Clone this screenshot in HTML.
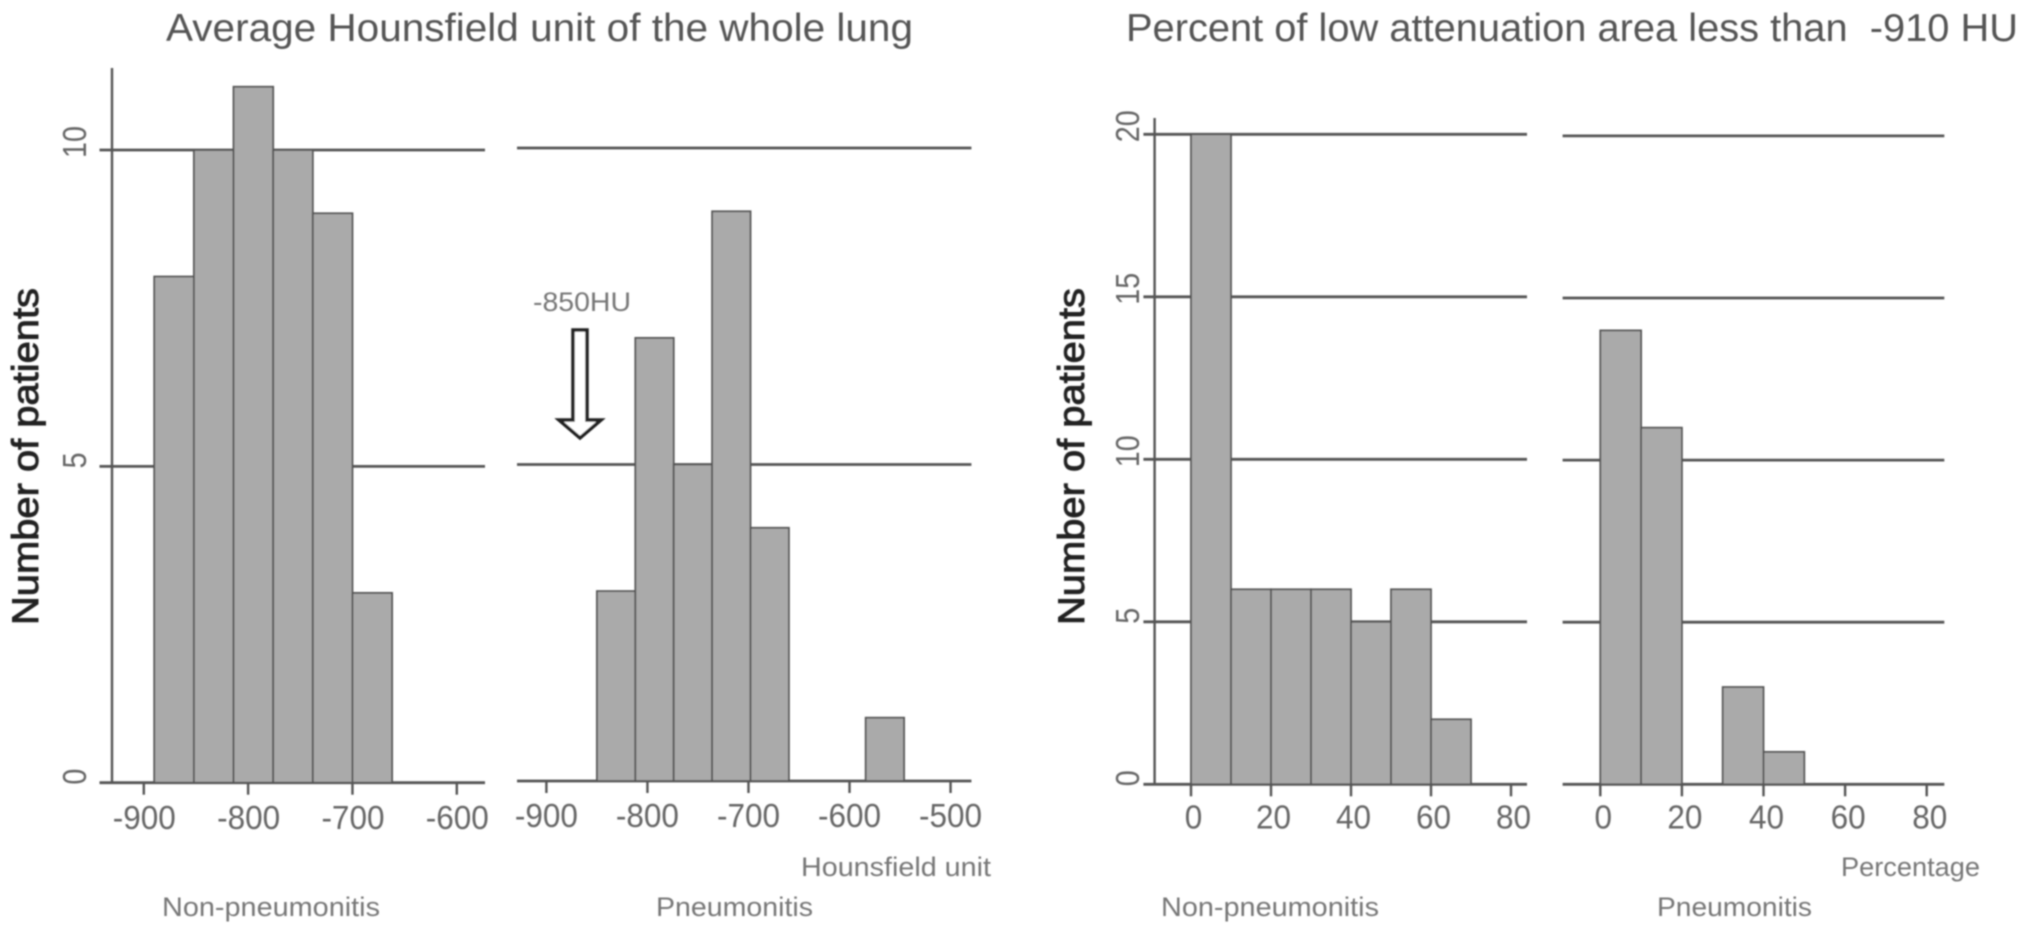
<!DOCTYPE html>
<html lang="en">
<head>
<meta charset="utf-8">
<title>Histograms of lung attenuation by pneumonitis status</title>
<style>
html,body{margin:0;padding:0;background:#fff;width:2031px;height:933px;overflow:hidden}
svg{display:block}
text{font-family:"Liberation Sans",sans-serif}
.title{font-size:39px;fill:#555}
.note{font-size:26.5px;fill:#777}
.tick{font-size:33.5px;fill:#666}
.ylab{font-size:33px;fill:#666;text-anchor:middle}
.ytitle{font-size:37px;fill:#222;stroke:#222;stroke-width:0.9}
</style>
</head>
<body>
<svg id="chart" xmlns="http://www.w3.org/2000/svg" width="2031" height="933" viewBox="0 0 2031 933">
  <defs>
    <filter id="soft" filterUnits="userSpaceOnUse" x="0" y="0" width="2031" height="933">
      <feGaussianBlur stdDeviation="0.75"/>
    </filter>
  </defs>
  <rect x="0" y="0" width="2031" height="933" fill="#fff"/>
  <g id="root" filter="url(#soft)">
    <text class="title" x="166" y="41" textLength="747" lengthAdjust="spacingAndGlyphs">Average Hounsfield unit of the whole lung</text>
    <text class="title" x="1126" y="41" textLength="892" lengthAdjust="spacingAndGlyphs" xml:space="preserve">Percent of low attenuation area less than  -910 HU</text>
    <text class="ytitle" transform="translate(38,625) rotate(-90)" textLength="337" lengthAdjust="spacingAndGlyphs">Number of patients</text>
    <text class="ytitle" transform="translate(1084,625) rotate(-90)" textLength="337" lengthAdjust="spacingAndGlyphs">Number of patients</text>
    <g id="panels"></g>
    <text class="note" x="533" y="311" textLength="98" lengthAdjust="spacingAndGlyphs">-850HU</text>
    <polygon points="573,330 587,330 587,420 601,420 580,438 559,420 573,420" fill="#fff" stroke="#222" stroke-width="3.5"/>
    <text class="note" x="801" y="876" textLength="190" lengthAdjust="spacingAndGlyphs">Hounsfield unit</text>
    <text class="note" x="1841" y="876" textLength="139" lengthAdjust="spacingAndGlyphs">Percentage</text>
    <text class="note" x="162" y="916" textLength="218" lengthAdjust="spacingAndGlyphs">Non-pneumonitis</text>
    <text class="note" x="656" y="916" textLength="157" lengthAdjust="spacingAndGlyphs">Pneumonitis</text>
    <text class="note" x="1161" y="916" textLength="218" lengthAdjust="spacingAndGlyphs">Non-pneumonitis</text>
    <text class="note" x="1657" y="916" textLength="155" lengthAdjust="spacingAndGlyphs">Pneumonitis</text>
  </g>
</svg>
<script>
// Chart data: bin edges and patient counts
const huNonEdges = [-890, -852, -814, -776, -738, -700, -662];
const huNonCounts = [8, 10, 11, 10, 9, 3];
const huPneuEdges = [-850, -812, -774, -736, -698, -660, -622, -584, -546];
const huPneuCounts = [3, 7, 5, 9, 4, 0, 0, 1];
const laaNonEdges = [0, 10, 20, 30, 40, 50, 60, 70];
const laaNonCounts = [20, 6, 6, 6, 5, 6, 2];
const laaPneuEdges = [0, 10, 20, 30, 40, 50];
const laaPneuCounts = [14, 11, 0, 3, 1];

// Tick labels
const huNonXTicks = [-900, -800, -700, -600];
const huPneuXTicks = [-900, -800, -700, -600, -500];
const laaXTicks = [0, 20, 40, 60, 80];
const huYTicks = [0, 5, 10];
const laaYTicks = [0, 5, 10, 15, 20];

const SVG_NS = 'http://www.w3.org/2000/svg';
const LINE = '#555';

function makeLinearAxis(domainValue, pixelAtValue, pixelsPerUnit) {
  return function (v) { return pixelAtValue + (v - domainValue) * pixelsPerUnit; };
}

function drawPanel(cfg) {
  const host = document.getElementById('panels');
  const g = document.createElementNS(SVG_NS, 'g');
  
  
  host.appendChild(g);

  const xs = makeLinearAxis(cfg.xRef, cfg.xRefPx, cfg.xUnit);
  const ys = makeLinearAxis(0, cfg.baseY, -cfg.yUnit);

  // Horizontal reference lines
  cfg.yTicks.forEach(function (t) {
    const l = document.createElementNS(SVG_NS, 'line');
    
    
    l.setAttribute('x1', cfg.lineX1);
    l.setAttribute('x2', cfg.lineX2);
    l.setAttribute('y1', ys(t));
    l.setAttribute('y2', ys(t));
    l.setAttribute('stroke', LINE);
    l.setAttribute('stroke-width', '2.8');
    g.appendChild(l);
  });

  // Y axis line and tick labels (left-hand panels only)
  if (cfg.axisX !== null) {
    const ax = document.createElementNS(SVG_NS, 'line');
    
    
    ax.setAttribute('x1', cfg.axisX);
    ax.setAttribute('x2', cfg.axisX);
    ax.setAttribute('y1', cfg.axisTop);
    ax.setAttribute('y2', cfg.baseY);
    ax.setAttribute('stroke', LINE);
    ax.setAttribute('stroke-width', '2.4');
    g.appendChild(ax);

    cfg.yTicks.forEach(function (t) {
      const label = String(t);
      const lab = document.createElementNS(SVG_NS, 'text');
      
      
      lab.setAttribute('class', 'ylab');
      lab.setAttribute('transform', 'translate(' + cfg.yLabelX + ',' + (ys(t) - 6 - (label.length - 1) * 2) + ') rotate(-90) scale(0.87,1)');
      lab.textContent = label;
      g.appendChild(lab);
    });
  }

  // Bars
  cfg.counts.forEach(function (count, i) {
    const x1 = xs(cfg.edges[i]);
    const x2 = xs(cfg.edges[i + 1]);
    const bar = document.createElementNS(SVG_NS, 'rect');
    
    
    bar.setAttribute('x', x1);
    bar.setAttribute('y', ys(count));
    bar.setAttribute('width', x2 - x1);
    bar.setAttribute('height', cfg.baseY - ys(count));
    bar.setAttribute('fill', '#aaaaaa');
    bar.setAttribute('stroke', LINE);
    bar.setAttribute('stroke-width', '1.8');
    g.appendChild(bar);
  });

  // X ticks and labels
  cfg.xTicks.forEach(function (t) {
    const tk = document.createElementNS(SVG_NS, 'line');
    
    
    tk.setAttribute('x1', xs(t));
    tk.setAttribute('x2', xs(t));
    tk.setAttribute('y1', cfg.baseY);
    tk.setAttribute('y2', cfg.baseY + 12);
    tk.setAttribute('stroke', LINE);
    tk.setAttribute('stroke-width', '2.4');
    g.appendChild(tk);

    const lab = document.createElementNS(SVG_NS, 'text');
    
    
    lab.setAttribute('class', 'tick');
    lab.setAttribute('transform', 'translate(' + (xs(t) + cfg.labelShift) + ',' + cfg.labelY + ') scale(0.94,1)');
    lab.setAttribute('text-anchor', 'middle');
    lab.textContent = String(t);
    g.appendChild(lab);
  });
}

drawPanel({
  name: 'hu-non-pneumonitis-panel', edges: huNonEdges, counts: huNonCounts,
  xTicks: huNonXTicks, yTicks: huYTicks,
  xRef: -900, xRefPx: 143.8, xUnit: 1.0433, baseY: 782.7, yUnit: 63.27,
  lineX1: 99.5, lineX2: 485, axisX: 112, axisTop: 68, yLabelX: 86, labelShift: 0.5, labelY: 829
});
drawPanel({
  name: 'hu-pneumonitis-panel', edges: huPneuEdges, counts: huPneuCounts,
  xTicks: huPneuXTicks, yTicks: huYTicks,
  xRef: -900, xRefPx: 546.4, xUnit: 1.0104, baseY: 781, yUnit: 63.3,
  lineX1: 517, lineX2: 971.4, axisX: null, axisTop: 0, yLabelX: 0, labelShift: 0, labelY: 827
});
drawPanel({
  name: 'laa-non-pneumonitis-panel', edges: laaNonEdges, counts: laaNonCounts,
  xTicks: laaXTicks, yTicks: laaYTicks,
  xRef: 0, xRefPx: 1191, xUnit: 4.0, baseY: 784.3, yUnit: 32.5,
  lineX1: 1143.4, lineX2: 1527, axisX: 1154.6, axisTop: 118, yLabelX: 1139, labelShift: 2.5, labelY: 828.5
});
drawPanel({
  name: 'laa-pneumonitis-panel', edges: laaPneuEdges, counts: laaPneuCounts,
  xTicks: laaXTicks, yTicks: laaYTicks,
  xRef: 0, xRefPx: 1600.3, xUnit: 4.08, baseY: 784.3, yUnit: 32.42,
  lineX1: 1562.6, lineX2: 1944.3, axisX: null, axisTop: 0, yLabelX: 0, labelShift: 3, labelY: 828.5
});
</script>
</body>
</html>
